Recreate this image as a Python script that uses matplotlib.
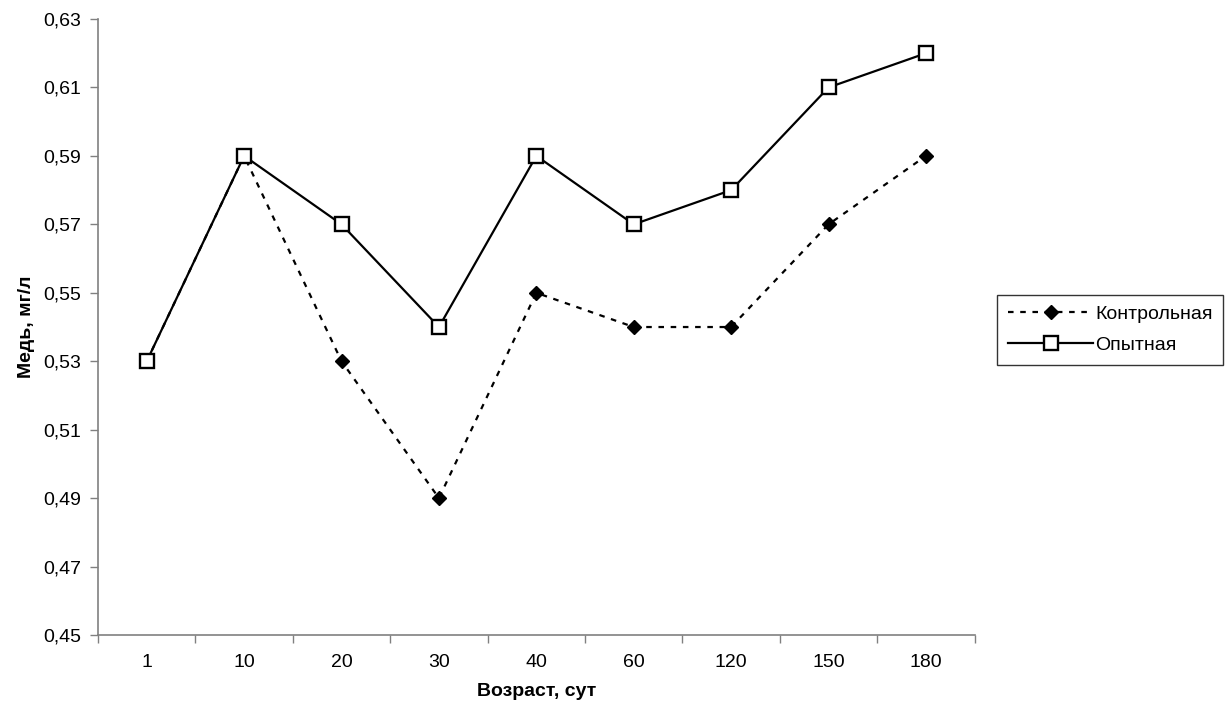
import matplotlib.pyplot as plt
from matplotlib.ticker import FixedLocator, FuncFormatter

plt.rcParams['font.family'] = ['Liberation Sans', 'DejaVu Sans']

days = ['1', '10', '20', '30', '40', '60', '120', '150', '180']
control = [0.53, 0.59, 0.53, 0.49, 0.55, 0.54, 0.54, 0.57, 0.59]
experimental = [0.53, 0.59, 0.57, 0.54, 0.59, 0.57, 0.58, 0.61, 0.62]

fig = plt.figure(figsize=(12.3, 7.2), dpi=100, facecolor='white')
ax = fig.add_axes([0.0797, 0.118, 0.7127, 0.8556])

x = range(len(days))
ax.plot(x, control, color='black', linestyle=(0, (2.5, 3)), linewidth=1.6,
        marker='D', markersize=7.5, markerfacecolor='black',
        markeredgecolor='black', label='Контрольная')
ax.plot(x, experimental, color='black', linestyle='-', linewidth=1.6,
        marker='s', markersize=9.5, markerfacecolor='white',
        markeredgecolor='black', markeredgewidth=1.7, label='Опытная')

ax.set_xlim(-0.5, len(days) - 0.5)
ax.set_ylim(0.45, 0.63)

# category labels centred, tick marks on the borders between them
ax.set_xticks(list(x))
ax.set_xticklabels(days, fontsize=14)
ax.tick_params(axis='x', which='major', length=0, pad=14)
ax.xaxis.set_minor_locator(FixedLocator([i - 0.5 for i in range(len(days) + 1)]))
ax.tick_params(axis='x', which='minor', length=6, width=1, color='#808080')

yt = [0.45 + 0.02 * i for i in range(10)]
ax.set_yticks(yt)
ax.yaxis.set_major_formatter(FuncFormatter(lambda v, p: f'{v:.2f}'.replace('.', ',')))
ax.tick_params(axis='y', length=6, width=1, color='#808080', labelsize=14, pad=6)

for s in ['top', 'right']:
    ax.spines[s].set_visible(False)
for s in ['left', 'bottom']:
    ax.spines[s].set_color('#808080')
    ax.spines[s].set_linewidth(1.2)

ax.set_xlabel('Возраст, сут', fontsize=14, fontweight='bold', labelpad=8)
ax.set_ylabel('Медь, мг/л', fontsize=14, fontweight='bold', labelpad=6)

leg = ax.legend(loc='center left', bbox_to_anchor=(0.8106, 0.542),
                bbox_transform=fig.transFigure, fontsize=14, frameon=True,
                fancybox=False, edgecolor='black', handlelength=4.4,
                handletextpad=0.1, borderpad=0.55, labelspacing=0.7,
                borderaxespad=0)
leg.get_frame().set_linewidth(1)

fig.savefig('out.png', dpi=100, facecolor='white')
